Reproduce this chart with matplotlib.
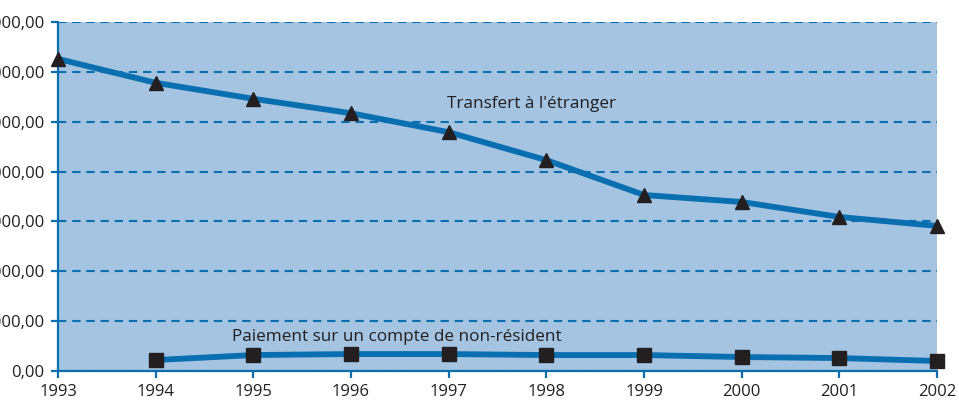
import matplotlib
matplotlib.use("Agg")
import matplotlib.pyplot as plt
from matplotlib.ticker import FuncFormatter, MultipleLocator

annees = [1993, 1994, 1995, 1996, 1997, 1998, 1999, 2000, 2001, 2002]
transfert = [6260, 5780, 5460, 5170, 4790, 4230, 3530, 3390, 3090, 2910]
annees_paiement = [1994, 1995, 1996, 1997, 1998, 1999, 2000, 2001, 2002]
paiement = [220, 320, 340, 340, 320, 320, 280, 260, 200]

BLEU = "#0a6fb0"
FOND = "#a4c4e1"
TEXTE = "#231f20"

plt.rcParams["font.family"] = ["Open Sans", "DejaVu Sans"]


def fmt_fr(v, pos):
    s = f"{v:,.2f}"
    return s.replace(",", " ").replace(".", ",")


fig = plt.figure(figsize=(9.59, 4.03), dpi=100)
ax = fig.add_axes([58 / 959, 32 / 403, 879 / 959, 349 / 403])
ax.set_facecolor(FOND)

ax.plot(annees, transfert, color=BLEU, linewidth=4.2, zorder=3, clip_on=False,
        solid_capstyle="butt")
ax.plot(annees, transfert, linestyle="none", marker="^", markersize=10,
        color=TEXTE, zorder=4, clip_on=False)
ax.plot(annees_paiement, paiement, color=BLEU, linewidth=4.2, zorder=3,
        clip_on=False, solid_capstyle="butt")
ax.plot(annees_paiement, paiement, linestyle="none", marker="s", markersize=10.5,
        color=TEXTE, zorder=4, clip_on=False)

ax.text(1996.98, 5350, "Transfert à l'étranger", fontsize=12.3, color=TEXTE,
        va="center", ha="left")
ax.text(1994.78, 690, "Paiement sur un compte de non-résident", fontsize=12.3,
        color=TEXTE, va="center", ha="left")

ax.set_xlim(1993, 2002)
ax.set_ylim(0, 7000)
ax.set_xticks(annees)
ax.yaxis.set_major_locator(MultipleLocator(1000))
ax.yaxis.set_major_formatter(FuncFormatter(fmt_fr))

ax.grid(axis="y", color=BLEU, linestyle=(0, (4, 2.8)), linewidth=1.5,
        zorder=1)
ax.set_axisbelow(True)

for side in ("top", "right"):
    ax.spines[side].set_visible(False)
for side in ("left", "bottom"):
    ax.spines[side].set_color(BLEU)
    ax.spines[side].set_linewidth(1.6)

ax.tick_params(axis="both", colors=BLEU, width=1.6, length=5,
               labelcolor=TEXTE, labelsize=12)
ax.tick_params(axis="y", pad=5)
ax.tick_params(axis="x", pad=4)

fig.savefig("out.png", dpi=100)
